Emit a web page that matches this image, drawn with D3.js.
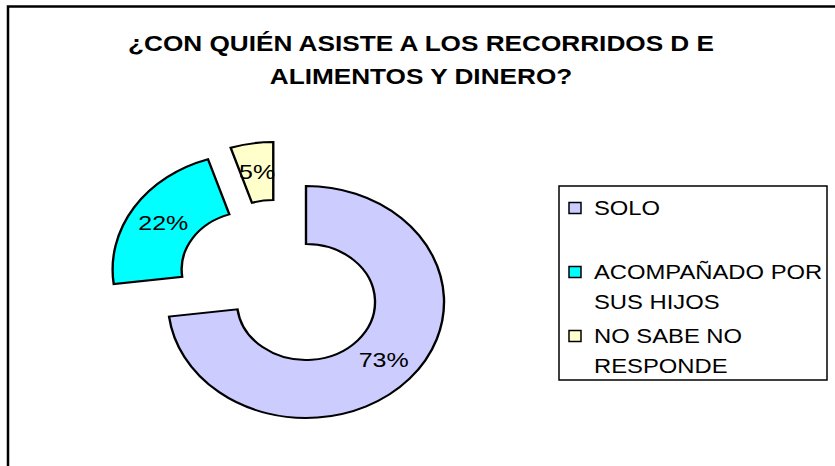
<!DOCTYPE html>
<html>
<head>
<meta charset="utf-8">
<script src="https://cdn.jsdelivr.net/npm/d3@7"></script>
<style>
  body { margin: 0; background: #fff; }
  svg { display: block; font-family: "Liberation Sans", Arial, sans-serif; }
</style>
</head>
<body>
<svg id="chart" width="835" height="466"></svg>
<script>
// chart data
var titleLines = ["¿CON QUIÉN ASISTE A LOS RECORRIDOS D E", "ALIMENTOS Y DINERO?"];
var categories = ["SOLO", "ACOMPAÑADO POR SUS HIJOS", "NO SABE NO RESPONDE"];
var values = [73, 22, 5];
var legendLines = [["SOLO"], ["ACOMPAÑADO POR", "SUS HIJOS"], ["NO SABE NO", "RESPONDE"]];

// styling
var colors = ["#CCCCFF", "#00FFFF", "#FFFFCC"];
var SX = 1.19;                 // the source picture is stretched horizontally
var center = {x: 306, y: 302};
var outerR = 116, innerR = 58;
var explode = [[0, 0], [-46.5, -32.5], [-27.5, -44]];   // slice offsets (unstretched)

var svg = d3.select("#chart");

// outer frame (right and bottom edges fall outside the picture)
svg.append("rect")
	.attr("x", 8).attr("y", 6.5)
	.attr("width", 900).attr("height", 600)
	.style("fill", "none")
	.style("stroke", "black")
	.style("stroke-width", 2.5);

// title
svg.append("g").selectAll("text")
	.data(titleLines)
	.enter().append("text")
		.attr("transform", function(d, i){ return "translate(421," + (51 + i*33) + ") scale(" + SX + ",1)"; })
		.attr("text-anchor", "middle")
		.style("font-size", "22px")
		.style("font-weight", "bold")
		.text(function(d){ return d; });

// doughnut
var pie = d3.pie().sort(null).value(function(d){ return d; });
var arc = d3.arc().innerRadius(innerR).outerRadius(outerR);
var arcs = pie(values);

var donut = svg.append("g")
	.attr("transform", "translate(" + center.x + "," + center.y + ") scale(" + SX + ",1)");

var slice = donut.selectAll("g.slice")
	.data(arcs)
	.enter().append("g")
		.attr("class", "slice")
		.attr("transform", function(d, i){ return "translate(" + explode[i][0] + "," + explode[i][1] + ")"; });

slice.append("path")
	.attr("d", arc)
	.style("fill", function(d, i){ return colors[i]; })
	.style("stroke", "black")
	.style("stroke-width", 2)
	.style("stroke-linejoin", "miter");

var total = d3.sum(values);
slice.append("text")
	.attr("transform", function(d){
		var c = arc.centroid(d);
		return "translate(" + c[0] + "," + (c[1] + 7) + ")";
	})
	.attr("text-anchor", "middle")
	.style("font-size", "21px")
	.text(function(d){ return Math.round(d.value / total * 100) + "%"; });

// legend
var legend = svg.append("g");
legend.append("rect")
	.attr("x", 559).attr("y", 186)
	.attr("width", 268).attr("height", 194)
	.style("fill", "white")
	.style("stroke", "black")
	.style("stroke-width", 1.5);

var yItem = d3.scaleLinear().domain([0, categories.length - 1]).range([208, 336]);

var item = legend.selectAll("g.item")
	.data(categories)
	.enter().append("g")
		.attr("class", "item")
		.attr("transform", function(d, i){ return "translate(0," + yItem(i) + ")"; });

item.append("rect")
	.attr("x", 569).attr("y", -5.5)
	.attr("width", 12).attr("height", 11)
	.style("fill", function(d, i){ return colors[i]; })
	.style("stroke", "black")
	.style("stroke-width", 1.5);

item.each(function(d, i){
	d3.select(this).selectAll("text")
		.data(legendLines[i])
		.enter().append("text")
			.attr("transform", function(t, j){ return "translate(594," + (7 + j*30) + ") scale(" + SX + ",1)"; })
			.style("font-size", "20px")
			.text(function(t){ return t; });
});
</script>
</body>
</html>
